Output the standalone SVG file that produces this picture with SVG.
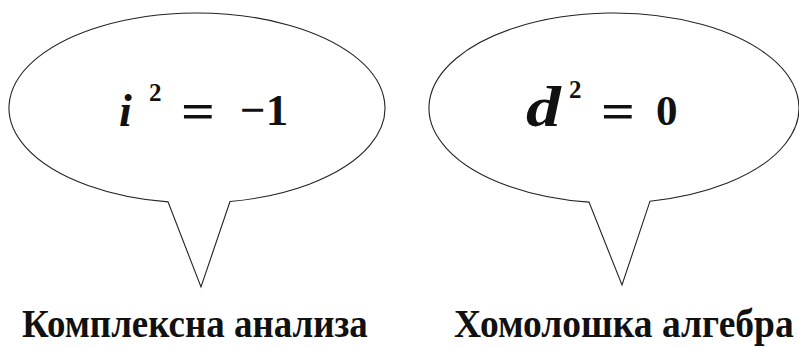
<svg xmlns="http://www.w3.org/2000/svg" width="799" height="347" viewBox="0 0 799 347">
<style>
.bub{fill:#fff;stroke:#222;stroke-width:1.1;stroke-linejoin:miter}
text{font-family:'Liberation Serif','Times New Roman',serif;font-weight:bold;fill:#111}
.it{font-style:italic}
.lab{font-size:40px}
</style>
<rect width="799" height="347" fill="#fff"/>
<g id="bubble-left">
<path class="bub" d="M168,201.86 A188,95 0 1 1 230,201.52 L201,287 Z"/>
<text class="it" x="119" y="126" font-size="46">i</text>
<text x="149" y="101" font-size="25">2</text>
<text x="181" y="128" font-size="50" textLength="34" lengthAdjust="spacingAndGlyphs">=</text>
<text x="240" y="125" font-size="45">−1</text>
</g>
<g id="bubble-right">
<path class="bub" d="M589,202.13 A185,95 0 1 1 650,201.18 L622,285 Z"/>
<text class="it" transform="translate(526,126) scale(1.2,1)" font-size="58">d</text>
<text x="569" y="98" font-size="25">2</text>
<text x="601" y="128" font-size="50" textLength="34" lengthAdjust="spacingAndGlyphs">=</text>
<text x="656" y="125" font-size="43">0</text>
</g>
<g id="labels">
<text class="lab" transform="translate(22,337) scale(0.88,1)" textLength="393" lengthAdjust="spacingAndGlyphs">Комплексна анализа</text>
<text class="lab" transform="translate(454,337) scale(0.88,1)" textLength="386" lengthAdjust="spacingAndGlyphs">Хомолошка алгебра</text>
</g>
<g id="connectors"></g>
</svg>
